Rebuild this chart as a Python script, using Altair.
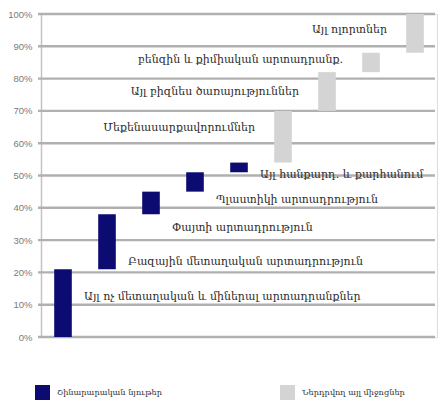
import altair as alt
import pandas as pd

# Industry breakdown (share of total, %)
labels = [
    "Այլ ոչ մետաղական և միներալ արտադրանքներ",
    "Բազային մետաղական արտադրություն",
    "Փայտի արտադրություն",
    "Պլաստիկի արտադրություն",
    "Այլ հանքարդ. և քարհանում",
    "Մեքենասարքավորումներ",
    "Այլ բիզնես ծառայություններ",
    "բենզին և քիմիական արտադրանք.",
    "Այլ ոլորտներ",
]
shares = [21, 17, 7, 6, 3, 16, 12, 6, 12]
groups = ["Շինարարական նյութեր"] * 5 + ["Ներդրվող այլ միջոցներ"] * 4
label_y = [12.4, 23.2, 33.7, 42.4, 50.2, 64.7, 75.9, 85.8, 95.0]

group_names = ["Շինարարական նյութեր", "Ներդրվող այլ միջոցներ"]
group_colors = ["#0b0b72", "#d4d4d4"]
y_ticks = [0, 10, 20, 30, 40, 50, 60, 70, 80, 90, 100]

df = pd.DataFrame({"idx": range(len(labels)), "label": labels, "share": shares,
                   "group": groups, "label_y": label_y})
df["end"] = df["share"].cumsum()
df["start"] = df["end"] - df["share"]
ticks_df = pd.DataFrame({"tick": y_ticks})

FONT = "DejaVu Serif"
W, H = 396, 323

x_enc = alt.X("idx:O", axis=None,
              scale=alt.Scale(paddingInner=0.6, paddingOuter=0.3))
y_scale = alt.Scale(domain=[0, 100], nice=False)
y_axis = alt.Axis(values=y_ticks, labelExpr="datum.value + '%'", title=None,
                  grid=False, labelOverlap=False)

# horizontal gridlines at every 10%, across the full plot width
grid = alt.Chart(ticks_df).mark_rule(color="#b0b0b0", strokeWidth=2.4).encode(
    y=alt.Y("tick:Q", scale=y_scale, axis=y_axis),
    x=alt.value(-3),
    x2=alt.value(W - 2),
)

bars = alt.Chart(df).mark_bar().encode(
    x=x_enc,
    y=alt.Y("start:Q", scale=y_scale, axis=y_axis),
    y2="end:Q",
    color=alt.Color("group:N",
                    scale=alt.Scale(domain=group_names, range=group_colors),
                    legend=alt.Legend(title=None, orient="none", direction="horizontal",
                                      legendX=-6, legendY=371, symbolType="square",
                                      symbolSize=225, symbolStrokeWidth=0,
                                      labelFont=FONT, labelFontSize=8.2,
                                      labelColor="#333333", labelOffset=7,
                                      columnPadding=117, labelLimit=300)),
)


def label_layer(group_name, align, dx):
    base = alt.Chart(df).transform_filter(alt.datum.group == group_name)
    return base.mark_text(align=align, baseline="middle", dx=dx, font=FONT,
                          fontSize=11, color="#2b2b2b").encode(
        x=x_enc,
        y=alt.Y("label_y:Q", scale=y_scale, axis=y_axis),
        text="label:N",
    )


chart = alt.layer(
    grid,
    bars,
    label_layer(group_names[0], "left", 21),
    label_layer(group_names[1], "right", -28),
).properties(
    width=W, height=H,
    autosize=alt.AutoSizeParams(type="none"),
    padding={"left": 41, "top": 14, "right": 4, "bottom": 68},
).configure_axisY(
    domainColor="#c4c4c4", domainWidth=1.5,
    ticks=False,
    labelFont="Liberation Sans", labelFontSize=9.5,
    labelColor="#7a7a7a", labelPadding=9, labelOverlap=False,
)

chart.save("out.html", embed_options={"renderer": "svg", "actions": False})
